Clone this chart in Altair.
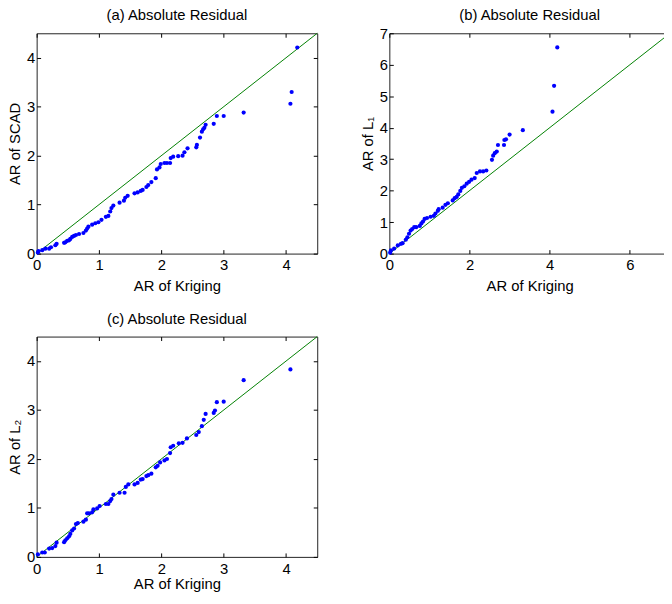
import altair as alt
import pandas as pd

# ---------------- data ----------------
kr_a = [0.02, 0.03, 0.09, 0.14, 0.20, 0.23, 0.30, 0.32, 0.44, 0.46, 0.49, 0.52, 0.54, 0.57,
        0.60, 0.63, 0.68, 0.75, 0.79, 0.81, 0.83, 0.89, 0.94, 0.99, 1.04, 1.11, 1.15, 1.18,
        1.20, 1.23, 1.33, 1.40, 1.42, 1.46, 1.57, 1.62, 1.67, 1.70, 1.76, 1.79, 1.84, 1.91,
        1.93, 1.97, 1.99, 2.05, 2.09, 2.14, 2.15, 2.19, 2.27, 2.34, 2.37, 2.42, 2.56, 2.57,
        2.62, 2.65, 2.67, 2.69, 2.71, 2.84, 2.89, 3.00, 3.32, 4.07, 4.09, 4.18]
scad = [0.02, 0.05, 0.07, 0.10, 0.10, 0.13, 0.17, 0.20, 0.22, 0.23, 0.26, 0.27, 0.30, 0.34,
        0.36, 0.38, 0.40, 0.42, 0.47, 0.51, 0.55, 0.59, 0.62, 0.64, 0.69, 0.75, 0.77, 0.86,
        0.93, 0.98, 1.04, 1.08, 1.14, 1.18, 1.23, 1.25, 1.28, 1.30, 1.36, 1.40, 1.46, 1.54,
        1.72, 1.76, 1.83, 1.85, 1.85, 1.85, 1.95, 1.98, 1.99, 2.00, 2.07, 2.15, 2.17, 2.22,
        2.37, 2.49, 2.54, 2.57, 2.63, 2.65, 2.81, 2.81, 2.88, 3.06, 3.30, 4.21]

kr_b = [0.02, 0.04, 0.12, 0.21, 0.29, 0.33, 0.41, 0.45, 0.49, 0.53, 0.57, 0.62, 0.67, 0.76,
        0.80, 0.84, 0.88, 0.94, 1.03, 1.11, 1.15, 1.21, 1.23, 1.33, 1.40, 1.46, 1.58, 1.63,
        1.68, 1.72, 1.77, 1.81, 1.87, 1.93, 1.99, 2.05, 2.13, 2.18, 2.26, 2.34, 2.42, 2.56,
        2.59, 2.63, 2.68, 2.71, 2.86, 2.87, 2.91, 3.00, 3.33, 4.07, 4.11, 4.19]
l1 = [0.03, 0.10, 0.16, 0.26, 0.31, 0.33, 0.44, 0.52, 0.63, 0.73, 0.78, 0.84, 0.84, 0.88,
      0.96, 1.02, 1.10, 1.13, 1.17, 1.20, 1.27, 1.36, 1.41, 1.46, 1.55, 1.60, 1.69, 1.76,
      1.80, 1.88, 1.99, 2.09, 2.14, 2.22, 2.28, 2.35, 2.40, 2.56, 2.61, 2.61, 2.64, 2.98,
      3.11, 3.19, 3.24, 3.45, 3.45, 3.61, 3.63, 3.78, 3.92, 4.51, 5.33, 6.55]

kr_c = [0.02, 0.09, 0.13, 0.20, 0.25, 0.30, 0.32, 0.44, 0.46, 0.49, 0.52, 0.54, 0.57, 0.60,
        0.63, 0.66, 0.75, 0.79, 0.81, 0.84, 0.89, 0.91, 0.97, 1.01, 1.11, 1.15, 1.18, 1.20,
        1.23, 1.33, 1.41, 1.43, 1.47, 1.57, 1.62, 1.67, 1.70, 1.76, 1.79, 1.84, 1.91, 1.94,
        1.98, 2.05, 2.09, 2.14, 2.15, 2.19, 2.28, 2.34, 2.41, 2.56, 2.60, 2.65, 2.68, 2.71,
        2.84, 2.86, 2.89, 3.00, 3.32, 4.07]
l2 = [0.05, 0.09, 0.09, 0.17, 0.18, 0.22, 0.29, 0.30, 0.34, 0.38, 0.42, 0.47, 0.54, 0.58,
      0.67, 0.69, 0.72, 0.76, 0.89, 0.89, 0.91, 0.97, 0.99, 1.04, 1.08, 1.08, 1.14, 1.18,
      1.27, 1.31, 1.31, 1.43, 1.48, 1.48, 1.51, 1.58, 1.59, 1.65, 1.67, 1.70, 1.83, 1.86,
      1.93, 1.97, 2.00, 2.12, 2.24, 2.27, 2.32, 2.33, 2.42, 2.49, 2.55, 2.67, 2.80, 2.92,
      2.94, 2.99, 3.16, 3.17, 3.61, 3.83]

ticks_45 = [0, 1, 2, 3, 4]
ticks_b_x = [0, 2, 4, 6]
ticks_b_y = [0, 1, 2, 3, 4, 5, 6, 7]

FONT = "Liberation Sans"
W, H = 284, 223
WB = 284


def tick_axis(orient, offset, values):
    return alt.Axis(orient=orient, offset=offset, values=values, labels=False,
                    domain=False, grid=False, ticks=True, tickSize=4,
                    tickColor="#000000", tickWidth=1, minExtent=0)


def panel(xs, ys, xmax, ymax, xticks, yticks, title, ytitle, w, h, toff, xlpad, xtpad):
    df = pd.DataFrame({"x": xs, "y": ys})
    d = min(xmax, ymax)
    diag = pd.DataFrame({"x": [0, d], "y": [0, d]})
    sx = alt.Scale(domain=[0, xmax], nice=False, zero=False)
    sy = alt.Scale(domain=[0, ymax], nice=False, zero=False)

    main_x = alt.Axis(orient="bottom", values=xticks, ticks=False, tickSize=0, domain=False,
                      grid=False, labelPadding=xlpad, titlePadding=xtpad, format="d",
                      labelFlush=False, minExtent=0)
    main_y = alt.Axis(orient="left", values=yticks, ticks=False, tickSize=0, domain=False,
                      grid=False, labelPadding=2, titlePadding=4, format="d",
                      labelFlush=False, minExtent=0)

    pts = alt.Chart(df).mark_circle(size=18, color="#0000ff", opacity=1).encode(
        x=alt.X("x:Q", scale=sx, axis=main_x, title="AR of Kriging"),
        y=alt.Y("y:Q", scale=sy, axis=main_y, title=ytitle),
    )
    ln = alt.Chart(diag).mark_line(color="#008000", strokeWidth=1).encode(
        x=alt.X("x:Q", scale=sx, axis=tick_axis("top", -h, xticks), title=None),
        y=alt.Y("y:Q", scale=sy, axis=tick_axis("right", -w, yticks), title=None),
    )
    ln2 = alt.Chart(diag).mark_line(opacity=0).encode(
        x=alt.X("x:Q", scale=sx, axis=tick_axis("bottom", -h, xticks), title=None),
        y=alt.Y("y:Q", scale=sy, axis=tick_axis("left", -w, yticks), title=None),
    )
    return alt.layer(ln2, ln, pts).resolve_axis(x="independent", y="independent").properties(
        width=w, height=h,
        title=alt.TitleParams(title, font=FONT, fontSize=15, fontWeight="normal",
                              color="black", frame="group", anchor="middle", offset=toff),
    )


pa = panel(kr_a, scad, 4.5, 4.5, ticks_45, ticks_45, "(a) Absolute Residual", "AR of SCAD", W, H, 8, 4, 6)
pb = panel(kr_b, l1, 7, 7, ticks_b_x, ticks_b_y, "(b) Absolute Residual", "AR of L₁", WB, H, 3.5, 4, 6)
pc = panel(kr_c, l2, 4.5, 4.5, ticks_45, ticks_45, "(c) Absolute Residual", "AR of L₂", W, H, 8, 5, 0)

# fixed drawing surface: 664 x 588 px (fits the 672 x 604 window with the 8px page margin);
# the origin is the top-left corner of panel (a)'s plot area.
PAD_L, PAD_T = 29, 22
chart = alt.vconcat(
    alt.hconcat(pa, pb, spacing=40),
    pc,
    spacing=17,
).properties(
    autosize=alt.AutoSizeParams(type="none"),
    padding={"left": PAD_L, "top": PAD_T, "right": 664 - PAD_L, "bottom": 588 - PAD_T},
    background="white",
).configure_view(
    stroke="#222222", strokeWidth=1
).configure_axis(
    labelFont=FONT, labelFontSize=15, labelColor="black",
    titleFont=FONT, titleFontSize=15, titleFontWeight="normal", titleColor="black",
)

chart.save("out.html", embed_options={"renderer": "svg", "actions": False})
